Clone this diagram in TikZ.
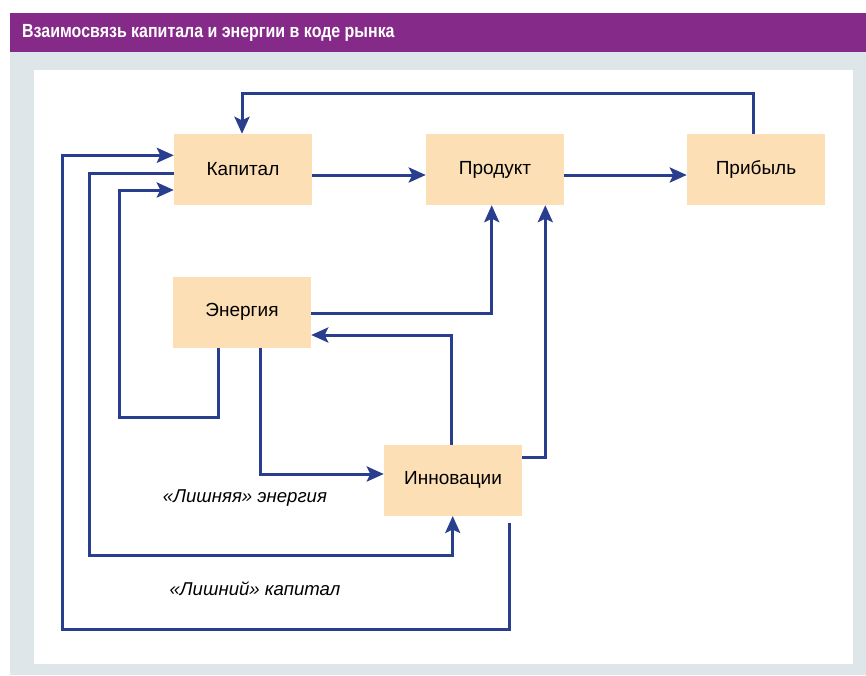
\documentclass[tikz,border=0pt]{standalone}
\usepackage{fontspec}
\setmainfont{Liberation Sans}
\newfontfamily\hdrfont[FakeStretch=0.84]{Liberation Sans Bold}
\usetikzlibrary{arrows.meta}
\definecolor{hdrpurple}{HTML}{862A8A}
\definecolor{panelgray}{HTML}{DFE6E9}
\definecolor{boxfill}{HTML}{FDDFB6}
\definecolor{linkblue}{HTML}{293E8F}
\tikzset{
  blk/.style={fill=boxfill, draw=none, inner sep=0pt, minimum width=138pt, minimum height=71pt, font=\fontsize{19}{22}\selectfont},
  link/.style={draw=linkblue, line width=3pt, line join=miter, -{Stealth[length=17pt,width=15pt,inset=3.5pt]}},
  lbl/.style={font=\fontsize{18.6}{21}\selectfont\itshape, inner sep=0pt},
  hdr/.style={font=\hdrfont\fontsize{19}{22}\selectfont, text=white, inner sep=0pt, anchor=west}
}
\begin{document}
\begin{tikzpicture}[x=1pt,y=-1pt]
\useasboundingbox (0,0) rectangle (866,675);
\fill[white] (0,0) rectangle (866,675);
\fill[hdrpurple] (10,12.7) rectangle (866,52);
\fill[panelgray] (10,52) rectangle (866,675);
\fill[white] (34,70) rectangle (853,663.5);
\node[hdr] (title) at (22,33) {Взаимосвязь капитала и энергии в коде рынка};

\node[blk] (kap) at (243,169.5) {Капитал};
\node[blk] (prod) at (495,169.5) {Продукт};
\node[blk] (prib) at (756,169.5) {Прибыль};
\node[blk] (en) at (242,312.3) {Энергия};
\node[blk] (inn) at (453,480.3) {Инновации};

\node[lbl] (l1) at (245,498) {«Лишняя» энергия};
\node[lbl] (l2) at (255,589) {«Лишний» капитал};

% main chain
\draw[link] (kap.east |- 0,175) -- (prod.west |- 0,175);
\draw[link] (prod.east |- 0,175) -- (prib.west |- 0,175);
% profit back to capital
\draw[link] (prib.north -| 753.3,0) |- (242,93) -- (kap.north -| 242,0);
% energy to product
\draw[link] (en.east |- 0,313.3) -| (prod.south -| 491.7,0);
% innovation to product
\draw[link] (inn.east |- 0,457.5) -| (prod.south -| 545.3,0);
% innovation to energy
\draw[link] (inn.north -| 451.7,0) |- (en.east |- 0,335);
% energy to innovation
\draw[link] (en.south -| 260,0) |- (inn.west |- 0,474);
% energy back to capital
\draw[link] (en.south -| 218,0) -- (218,417.3) -- (119,417.3) |- (kap.west |- 0,190);
% capital to innovation
\draw[link] (kap.west |- 0,173) -- (89,173) |- (452.7,555.3) -- (inn.south -| 452.7,0);
% innovation back to capital
\coordinate (innout) at (509.4,522.7);
\draw[link] (innout) -- (509.4,629.3) -- (62.4,629.3) |- (kap.west |- 0,155.3);
\end{tikzpicture}
\end{document}
